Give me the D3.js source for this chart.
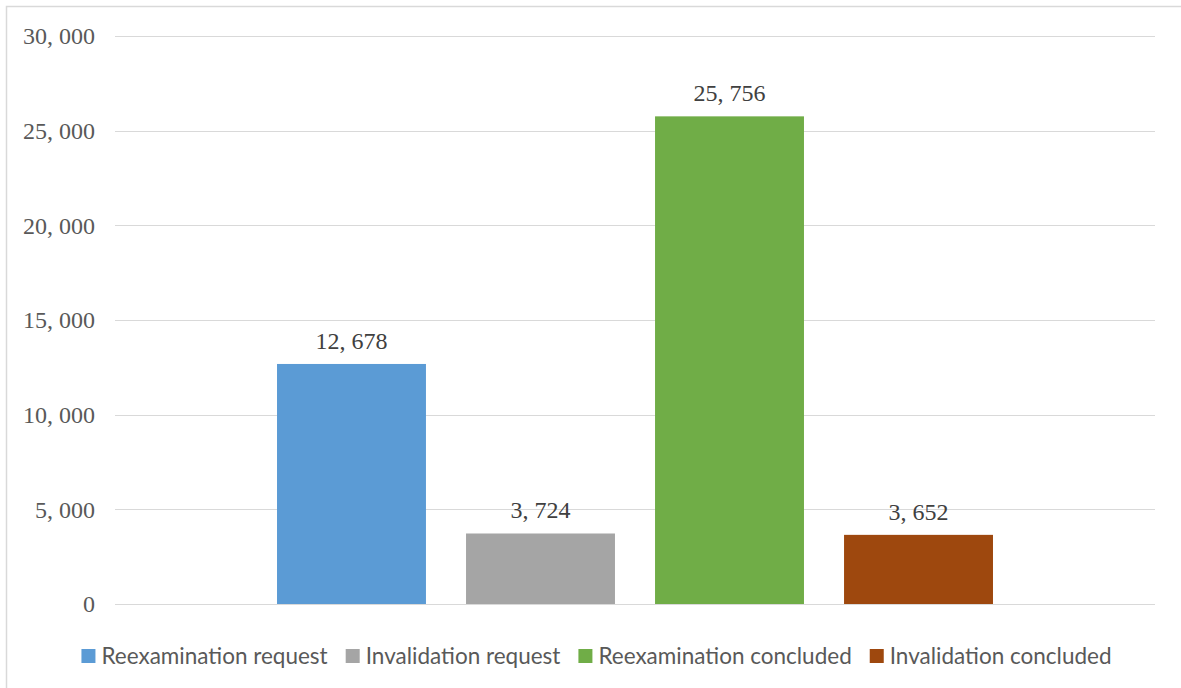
<!DOCTYPE html>
<html>
<head>
<meta charset="utf-8">
<script src="https://cdn.jsdelivr.net/npm/d3@7"></script>
<style>
  html, body { margin: 0; padding: 0; background: #fff; }
  svg { display: block; }
</style>
</head>
<body>
<svg id="chart" width="1181" height="688"></svg>
<script>
const categories = ["2019"];
const seriesNames = ["Reexamination request", "Invalidation request", "Reexamination concluded", "Invalidation concluded"];
const seriesValues = [12678, 3724, 25756, 3652];
const seriesColors = ["#5B9BD5", "#A5A5A5", "#70AD47", "#9E480E"];
const yTicks = [0, 5000, 10000, 15000, 20000, 25000, 30000];

const svg = d3.select("#chart");
const plot = { left: 115, right: 1155, top: 36, bottom: 604 };

// frame
svg.append("rect")
  .attr("x", 6.5).attr("y", 6.5)
  .attr("width", 1300).attr("height", 800)
  .attr("fill", "none").attr("stroke", "#D9D9D9").attr("stroke-width", 1.5);

const y = d3.scaleLinear().domain([0, 30000]).range([plot.bottom, plot.top]);
const x0 = d3.scaleBand().domain(categories).range([plot.left, plot.right])
  .paddingInner(0).paddingOuter(0.2263);
const x1 = d3.scaleBand().domain(seriesNames).range([0, x0.bandwidth()])
  .paddingInner(0.212).paddingOuter(0);

const fmt = v => d3.format(",")(v).replace(/,/g, ", ");

// gridlines
svg.append("g").selectAll("line").data(yTicks).join("line")
  .attr("x1", plot.left).attr("x2", plot.right)
  .attr("y1", d => Math.round(y(d)) + 0.5).attr("y2", d => Math.round(y(d)) + 0.5)
  .attr("stroke", "#D9D9D9").attr("stroke-width", 1);

// y axis labels
const yAxis = d3.axisLeft(y).tickValues(yTicks).tickSize(0).tickPadding(0).tickFormat(fmt);
const gy = svg.append("g").attr("transform", `translate(95,0)`).call(yAxis);
gy.select(".domain").remove();
gy.selectAll("text")
  .attr("font-family", "'Liberation Serif', 'DejaVu Serif', serif")
  .attr("font-size", 24)
  .attr("fill", "#595959")
  .attr("dy", "0.32em");

// bars
const data = seriesNames.map((s, i) => ({ series: s, value: seriesValues[i], color: seriesColors[i], cat: categories[0] }));
const g = svg.append("g");
g.selectAll("rect").data(data).join("rect")
  .attr("x", d => x0(d.cat) + x1(d.series))
  .attr("width", x1.bandwidth())
  .attr("y", d => y(d.value))
  .attr("height", d => y(0) - y(d.value))
  .attr("fill", d => d.color);

// data labels
g.selectAll("text").data(data).join("text")
  .attr("x", d => x0(d.cat) + x1(d.series) + x1.bandwidth() / 2)
  .attr("y", d => y(d.value) - 15)
  .attr("text-anchor", "middle")
  .attr("font-family", "'Liberation Serif', 'DejaVu Serif', serif")
  .attr("font-size", 24)
  .attr("fill", "#404040")
  .text(d => fmt(d.value));

// legend
const lg = svg.append("g");
const items = lg.selectAll("g").data(data).join("g");
items.append("rect").attr("width", 14).attr("height", 14).attr("y", 649).attr("fill", d => d.color);
items.append("text")
  .attr("x", 20).attr("y", 663.5)
  .attr("font-family", "Lato, 'Open Sans', sans-serif")
  .attr("font-size", 22.5)
  .attr("fill", "#595959")
  .text(d => d.series);
const widths = [];
items.each(function() { widths.push(20 + d3.select(this).select("text").node().getComputedTextLength()); });
const gap = 18;
const total = d3.sum(widths) + gap * (widths.length - 1);
let cx = 596.5 - total / 2;
items.each(function(d, i) {
  d3.select(this).attr("transform", `translate(${cx},0)`);
  cx += widths[i] + gap;
});
</script>
</body>
</html>
